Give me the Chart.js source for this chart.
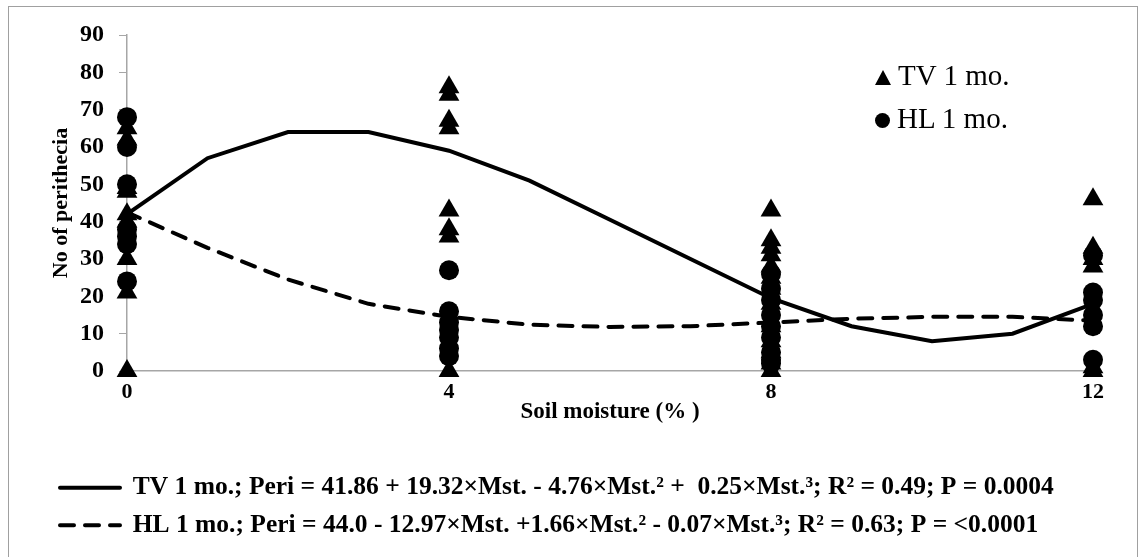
<!DOCTYPE html>
<html>
<head>
<meta charset="utf-8">
<script src="https://cdn.jsdelivr.net/npm/chart.js@4.4.0/dist/chart.umd.min.js"></script>
<style>
  body { margin: 0; background: #fff; overflow: hidden; }
  #wrap { position: absolute; left: 0; top: 0; width: 1139px; height: 548px; }
  #frame { position: absolute; left: 8px; top: 6px; width: 1128px; height: 560px; border: 1px solid #a0a0a0; pointer-events: none; }
  #marks { position: absolute; left: 875px; top: 55px; font-family: "Liberation Serif", serif; font-size: 29px; color: #000; }
  #marks div { height: 43px; line-height: 40px; white-space: nowrap; }
  .tri { display: inline-block; width: 0; height: 0; border-left: 8px solid transparent; border-right: 8px solid transparent; border-bottom: 15px solid #000; margin-right: 7px; }
  .dot { display: inline-block; width: 15px; height: 15px; border-radius: 50%; background: #000; margin-right: 7px; }
</style>
</head>
<body>
<div id="wrap"><canvas id="chart"></canvas></div>
<div id="frame"></div>
<div id="marks">
  <div><span class="tri"></span>TV 1 mo.</div>
  <div><span class="dot"></span>HL 1 mo.</div>
</div>
<script>
// observed counts per soil moisture level
const moistureLevels = [0, 4, 8, 12];
const tvCounts = [
  [65, 62, 49, 48, 42, 40, 30, 21, 0],
  [76, 74, 67, 65, 43, 38, 36, 0],
  [43, 35, 33, 31, 28, 25, 22, 18, 12, 8, 5, 2, 0],
  [46, 33, 30, 28, 1, 0]
];
const hlCounts = [
  [68, 60, 50, 38, 36, 34, 24],
  [27, 16, 13, 11, 9, 6, 4],
  [26, 22, 19, 15, 12, 9, 5, 3, 2],
  [31, 21, 19, 15, 12, 3]
];

// fitted curves
const curveMoisture = [0, 1, 2, 3, 4, 5, 6, 7, 8, 9, 10, 11, 12];
const tvCurve = [42, 57, 64, 64, 59, 51, 40.5, 30, 19.5, 12, 8, 10, 18];
const hlCurve = [42.5, 33, 24.5, 18, 14.5, 12.4, 11.8, 12, 13, 14, 14.5, 14.5, 13.5];

const tvCurveLabel = 'TV 1 mo.; Peri = 41.86 + 19.32\u00d7Mst. - 4.76\u00d7Mst.\u00b2 +  0.25\u00d7Mst.\u00b3; R\u00b2 = 0.49; P = 0.0004';
const hlCurveLabel = 'HL 1 mo.; Peri = 44.0 - 12.97\u00d7Mst. +1.66\u00d7Mst.\u00b2 - 0.07\u00d7Mst.\u00b3; R\u00b2 = 0.63; P = <0.0001';

const yTicks = [0, 10, 20, 30, 40, 50, 60, 70, 80, 90];

function toPoints(levels, groups) {
  let pts = [];
  groups.forEach((g, i) => {
    g.forEach(v => pts.push({x: levels[i], y: v}));
  });
  return pts;
}

function toLine(xs, ys) {
  return xs.map((x, i) => ({x: x, y: ys[i]}));
}

const serif = "'Liberation Serif', 'Times New Roman', serif";
const axisGray = '#a6a6a6';

const data = {
  datasets: [
    {
      type: 'scatter',
      label: 'TV 1 mo.',
      data: toPoints(moistureLevels, tvCounts),
      pointStyle: 'triangle',
      pointRadius: 12,
      backgroundColor: '#000',
      borderColor: '#000',
      borderWidth: 0,
      clip: false,
      order: 3
    },
    {
      type: 'scatter',
      label: 'HL 1 mo.',
      data: toPoints(moistureLevels, hlCounts),
      pointStyle: 'circle',
      pointRadius: 10,
      backgroundColor: '#000',
      borderColor: '#000',
      borderWidth: 0,
      clip: false,
      order: 4
    },
    {
      type: 'line',
      label: tvCurveLabel,
      data: toLine(curveMoisture, tvCurve),
      borderColor: '#000',
      backgroundColor: '#000',
      borderWidth: 4,
      borderCapStyle: 'round',
      pointRadius: 0,
      pointStyle: 'line',
      tension: 0,
      clip: false,
      order: 1
    },
    {
      type: 'line',
      label: hlCurveLabel,
      data: toLine(curveMoisture, hlCurve),
      borderColor: '#000',
      backgroundColor: '#000',
      borderWidth: 4,
      borderDash: [14, 11],
      borderCapStyle: 'round',
      pointRadius: 0,
      pointStyle: 'line',
      tension: 0,
      clip: false,
      order: 2
    }
  ]
};

// legend entries only for the two fitted curves, keeping their dash pattern
function curveLabels(chart) {
  const items = Chart.defaults.plugins.legend.labels.generateLabels(chart);
  return items.filter(item => item.datasetIndex >= 2).map(item => {
    const ds = chart.data.datasets[item.datasetIndex];
    item.lineDash = ds.borderDash || [];
    item.lineCap = ds.borderCapStyle;
    item.lineWidth = ds.borderWidth;
    return item;
  });
}

const config = {
  data: data,
  options: {
    responsive: true,
    maintainAspectRatio: false,
    animation: false,
    layout: {
      padding: {left: 48, right: 46, top: 35, bottom: 0}
    },
    plugins: {
      tooltip: {enabled: false},
      legend: {
        position: 'bottom',
        align: 'start',
        labels: {
          generateLabels: curveLabels,
          usePointStyle: true,
          pointStyleWidth: 60,
          padding: 12,
          color: '#000',
          font: {family: serif, size: 25.5, weight: 'bold'}
        }
      }
    },
    scales: {
      x: {
        type: 'linear',
        min: 0,
        max: 12,
        afterBuildTicks: s => { s.ticks = moistureLevels.map(v => ({value: v})); },
        afterFit: s => { s.height = 92; },
        grid: {display: true, drawOnChartArea: false, drawTicks: false, color: axisGray},
        border: {color: axisGray, width: 1.5},
        ticks: {
          color: '#000',
          padding: 8,
          font: {family: serif, size: 22, weight: 'bold'}
        },
        title: {
          display: true,
          text: 'Soil moisture (% )',
          color: '#000',
          font: {family: serif, size: 23, weight: 'bold'},
          padding: {top: 0, bottom: 37}
        }
      },
      y: {
        min: 0,
        max: 90,
        afterBuildTicks: s => { s.ticks = yTicks.map(v => ({value: v})); },
        afterFit: s => { s.width = 79; },
        grid: {display: true, drawOnChartArea: false, drawTicks: true, tickLength: 8, color: axisGray},
        border: {color: axisGray, width: 1.5},
        ticks: {
          color: '#000',
          padding: 15,
          font: {family: serif, size: 24, weight: 'bold'}
        },
        title: {
          display: true,
          text: 'No of perithecia',
          color: '#000',
          font: {family: serif, size: 22, weight: 'bold'},
          padding: 0
        }
      }
    }
  }
};

const ctx = document.getElementById('chart').getContext('2d');
const myChart = new Chart(ctx, config);
</script>
</body>
</html>
